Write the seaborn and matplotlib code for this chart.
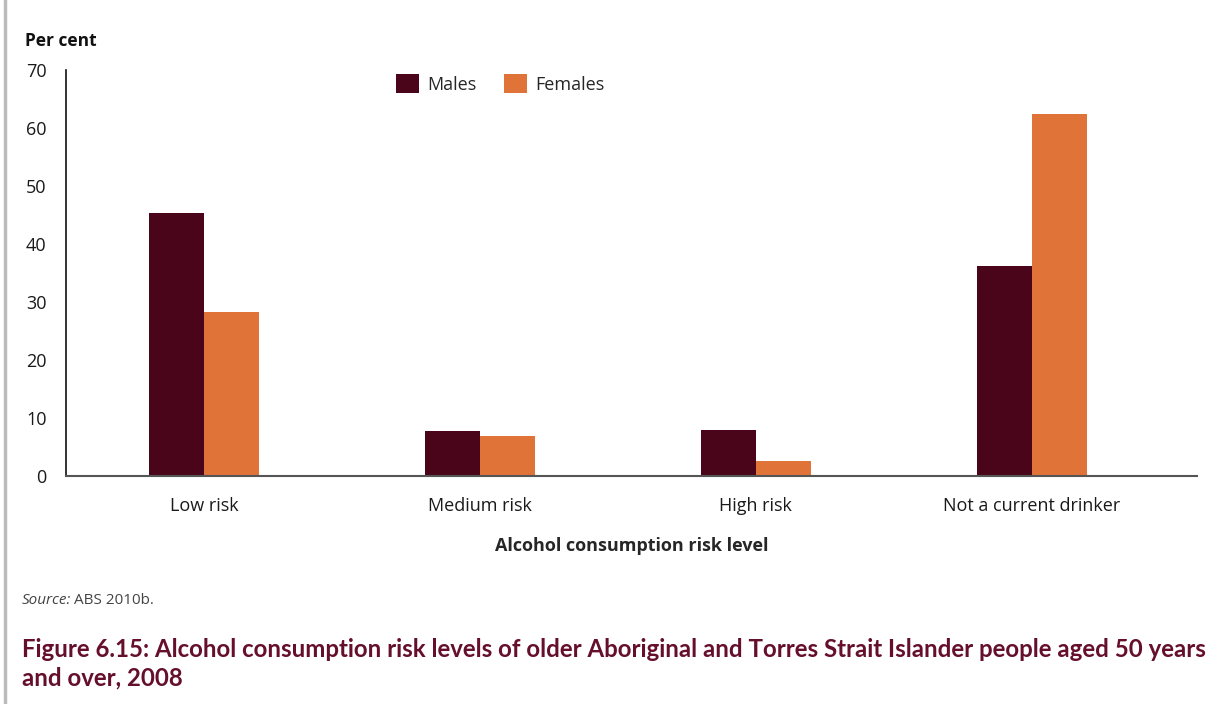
"""
Figure 6.15 recreation: alcohol consumption risk levels by sex.
"""

# %% Imports
import pandas as pd
import matplotlib
from matplotlib import pyplot as plt
from matplotlib import font_manager
import seaborn as sns

matplotlib.use("Agg")

# %% Data
CATEGORIES = ["Low risk", "Medium risk", "High risk", "Not a current drinker"]
MALES = [45.3, 7.8, 7.9, 36.2]
FEMALES = [28.3, 6.9, 2.6, 62.4]
SEXES = ["Males", "Females"]
Y_TICKS = [0, 10, 20, 30, 40, 50, 60, 70]

MALE_COLOUR = "#4a051b"
FEMALE_COLOUR = "#e07338"
TITLE_COLOUR = "#650f2c"

# %% Fonts
available = {f.name for f in font_manager.fontManager.ttflist}
BODY_FONT = "Open Sans" if "Open Sans" in available else "DejaVu Sans"
TITLE_FONT = "Lato" if "Lato" in available else BODY_FONT

sns.set_theme(style="white")
plt.rcParams["font.family"] = [BODY_FONT, "DejaVu Sans"]

# %% Build table
df = pd.DataFrame(
    {
        "category": CATEGORIES * 2,
        "sex": [SEXES[0]] * len(CATEGORIES) + [SEXES[1]] * len(CATEGORIES),
        "value": MALES + FEMALES,
    }
)

# %% Plot
fig = plt.figure(figsize=(12.27, 7.04), dpi=100)
ax = fig.add_axes([0.0538, 0.324, 0.922, 0.577])

sns.barplot(
    df,
    x="category",
    y="value",
    hue="sex",
    order=CATEGORIES,
    hue_order=SEXES,
    palette=[MALE_COLOUR, FEMALE_COLOUR],
    width=0.4,
    gap=0,
    saturation=1,
    errorbar=None,
    linewidth=0,
    ax=ax,
)

ax.set_xlim(-0.5, 3.6)
ax.set_ylim(0, 70)
ax.set_yticks(Y_TICKS)
ax.tick_params(axis="y", length=10, width=1.2, color="#333333", labelsize=13, pad=4, labelcolor="#1a1a1a")
ax.tick_params(axis="x", length=0, labelsize=13, pad=15, labelcolor="#1a1a1a")
ax.spines[["top", "right"]].set_visible(False)
ax.spines["left"].set_color("#111111")
ax.spines["left"].set_linewidth(1.2)
ax.spines["bottom"].set_color("#555555")
ax.spines["bottom"].set_linewidth(1.5)
ax.set_ylabel("")
ax.set_xlabel("Alcohol consumption risk level", fontsize=13, fontweight="bold", labelpad=16)

leg = ax.legend(
    loc="upper left",
    bbox_to_anchor=(0.277, 1.03),
    ncol=2,
    frameon=False,
    fontsize=13,
    handlelength=1.3,
    handleheight=1.3,
    handletextpad=0.45,
    columnspacing=1.5,
)

fig.text(0.020, 0.935, "Per cent", fontsize=12.5, fontweight="bold", color="#111111")
fig.text(0.018, 0.142, "Source:", fontsize=11, style="italic", color="#444444")
fig.text(0.0605, 0.142, "ABS 2010b.", fontsize=11, color="#444444")
fig.text(
    0.018,
    0.026,
    "Figure 6.15: Alcohol consumption risk levels of older Aboriginal and Torres Strait Islander people aged 50 years\nand over, 2008",
    fontsize=17.3,
    fontweight="bold",
    color=TITLE_COLOUR,
    family=[TITLE_FONT, "DejaVu Sans"],
    linespacing=1.28,
)

# grey frame edge on the left
fig.add_artist(plt.Line2D([0.004, 0.004], [0.0, 1.0], color="#bbbbbb", lw=2.5, transform=fig.transFigure))

fig.savefig("out.png", dpi=100)
